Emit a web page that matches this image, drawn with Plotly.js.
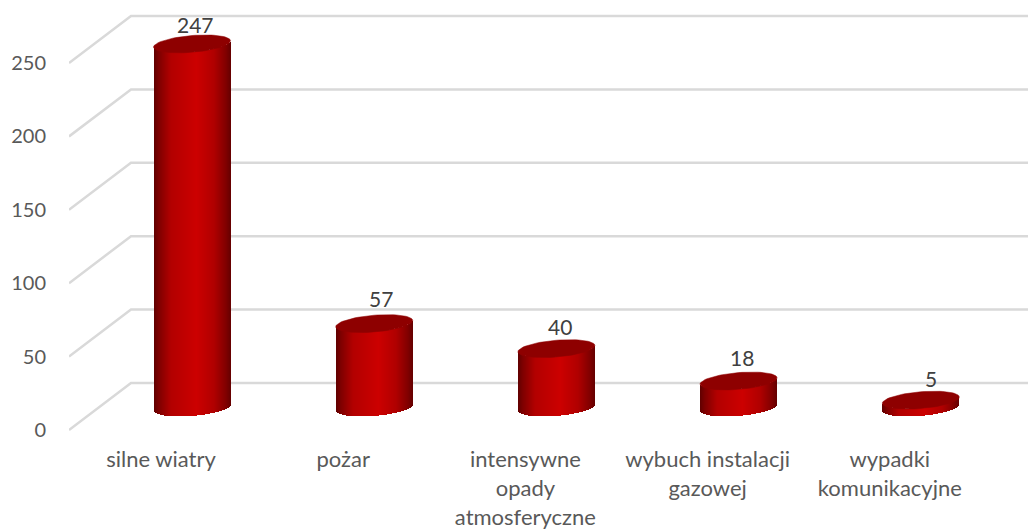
<!DOCTYPE html>
<html>
<head>
<meta charset="utf-8">
<script src="https://cdn.plot.ly/plotly-3.0.1.min.js"></script>
<style>html,body{margin:0;padding:0;background:#fff;overflow:hidden}#chart{width:1028px;height:529px}</style>
</head>
<body>
<div id="chart"></div>
<script>
// Data
var categoryLines = [['silne wiatry'], ['pożar'], ['intensywne', 'opady', 'atmosferyczne'], ['wybuch instalacji', 'gazowej'], ['wypadki', 'komunikacyjne']];
var values = [247, 57, 40, 18, 5];
var axisTicks = [0, 50, 100, 150, 200, 250];

// Styling and layout of the pseudo-3D look
var W = 1028, H = 529, plotLeft = 69, plotBottom = 440;
var pxPerCat = 182.2, firstCenterPx = 192;
var barAxisZeroPx = 407.5, barPxPerUnit = 1.472;
var wallAxisZeroPx = 430, wallPxPerUnit = 1.468;
var depthX = 62, depthY = 47, labelShiftPx = -31;
var barHalfPx = 38.5, ellipseB = 8.4, ellipseK = 3.1, stripCount = 77;
var labelDx = [3, 6.5, 3.5, 3, 10];
var labelDy = [19, 25.5, 22.6, 24, 22];
var stops = [[0, [96, 0, 0]], [0.06, [125, 0, 0]], [0.22, [178, 0, 0]], [0.55, [204, 0, 0]], [0.78, [176, 0, 0]], [0.93, [130, 0, 0]], [1, [100, 0, 0]]];
var fontFamily = 'Lato, "Open Sans", sans-serif';

function catX(px) { return (px - firstCenterPx) / pxPerCat; }
var xMin = catX(plotLeft), xMax = catX(W);

function shade(t) {
  for (var i = 1; i < stops.length; i++) {
    if (t <= stops[i][0]) {
      var a = stops[i - 1], b = stops[i], f = (t - a[0]) / (b[0] - a[0]);
      var c = a[1].map(function (v, k) { return Math.round(v + (b[1][k] - v) * f); });
      return 'rgb(' + c.join(',') + ')';
    }
  }
  return 'rgb(100,0,0)';
}

var traces = [];

// Floor + back wall gridlines
var gx = [], gy = [];
axisTicks.forEach(function (v) {
  gx.push(catX(plotLeft), catX(plotLeft + depthX), xMax, null);
  gy.push(v, v + depthY / wallPxPerUnit, v + depthY / wallPxPerUnit, null);
});
traces.push({type: 'scatter', mode: 'lines', x: gx, y: gy, xaxis: 'x', yaxis: 'y',
  line: {color: '#d9d9d9', width: 2.5}, hoverinfo: 'skip', showlegend: false});

// Cylinder bodies: thin vertical strips, each bar sitting on the lower edge of the ellipse
var idx = values.map(function (_, i) { return i; });
for (var s = 0; s < stripCount; s++) {
  var t0 = s / stripCount, t1 = (s + 1) / stripCount, tm = (t0 + t1) / 2;
  var u = 2 * tm - 1;
  var lowerPx = -ellipseB * Math.sqrt(Math.max(0, 1 - u * u)) + ellipseK * u;
  var baseVal = lowerPx / barPxPerUnit;
  traces.push({type: 'bar', x: idx, y: values.map(function (v) { return v + 0.4; }),
    base: values.map(function () { return baseVal; }),
    width: 2 * barHalfPx * (t1 - t0) / pxPerCat,
    offset: (2 * t0 - 1) * barHalfPx / pxPerCat,
    xaxis: 'x', yaxis: 'y2',
    marker: {color: shade(tm), line: {width: 0}},
    hoverinfo: 'skip', showlegend: false});
}

// Cylinder tops
values.forEach(function (v, i) {
  var ex = [], ey = [];
  for (var d = 0; d <= 72; d++) {
    var a = d * Math.PI / 36;
    ex.push(i + barHalfPx * Math.cos(a) / pxPerCat);
    ey.push(v + (ellipseB * Math.sin(a) + ellipseK * Math.cos(a)) / barPxPerUnit);
  }
  traces.push({type: 'scatter', mode: 'lines', x: ex, y: ey, xaxis: 'x', yaxis: 'y2', fill: 'toself',
    fillcolor: '#8e0000', line: {color: '#8e0000', width: 0.5}, hoverinfo: 'skip', showlegend: false});
});

var annotations = values.map(function (v, i) {
  return {x: i, y: v, xref: 'x', yref: 'y2', text: String(v), showarrow: false,
    xanchor: 'center', yanchor: 'middle', xshift: labelDx[i], yshift: labelDy[i],
    font: {family: fontFamily, size: 21, color: '#404040'}};
});

var layout = {
  width: W, height: H,
  margin: {l: plotLeft, r: 0, t: 0, b: H - plotBottom, pad: 0},
  paper_bgcolor: '#fff', plot_bgcolor: 'rgba(0,0,0,0)',
  showlegend: false, hovermode: false, barmode: 'overlay', bargap: 0,
  annotations: annotations,
  xaxis: {range: [xMin, xMax], showgrid: false, zeroline: false, showline: false,
    tickmode: 'array', tickvals: idx.map(function (i) { return i + labelShiftPx / pxPerCat; }),
    ticktext: categoryLines.map(function (lines) { return lines.join('<br>'); }),
    ticks: 'outside', ticklen: 0, tickcolor: 'rgba(0,0,0,0)', tickangle: 0,
    tickfont: {family: fontFamily, size: 22, color: '#595959'}},
  yaxis: {range: [(wallAxisZeroPx - plotBottom) / wallPxPerUnit, wallAxisZeroPx / wallPxPerUnit],
    showgrid: false, zeroline: false, showline: false, tickmode: 'array', tickvals: axisTicks,
    ticktext: axisTicks.map(String), ticks: 'outside', ticklen: 18, tickcolor: 'rgba(0,0,0,0)',
    tickfont: {family: fontFamily, size: 20, color: '#595959'}},
  yaxis2: {overlaying: 'y', side: 'left', visible: false,
    range: [(barAxisZeroPx - plotBottom) / barPxPerUnit, barAxisZeroPx / barPxPerUnit]}
};

Plotly.newPlot('chart', traces, layout, {displayModeBar: false, staticPlot: true});
</script>
</body>
</html>
